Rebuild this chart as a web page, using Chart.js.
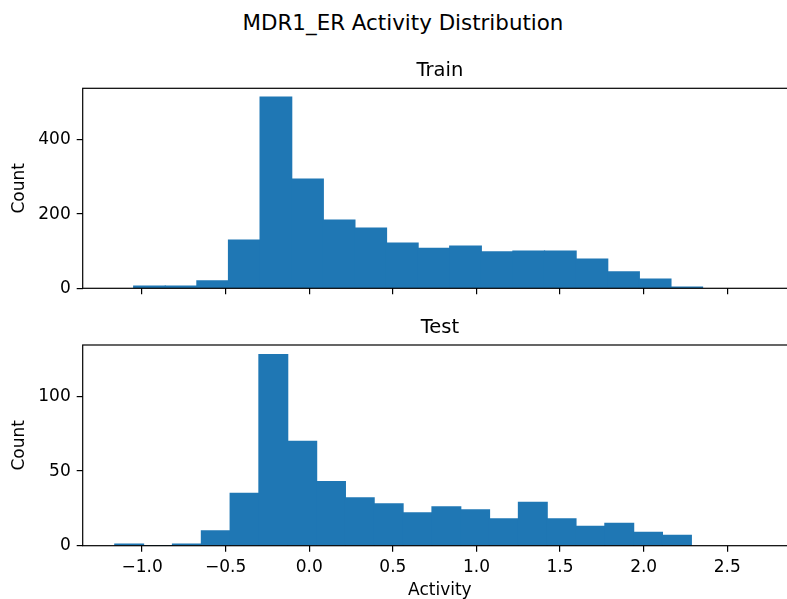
<!DOCTYPE html>
<html><head><meta charset="utf-8">
<script src="https://cdn.jsdelivr.net/npm/chart.js@4.4.1/dist/chart.umd.min.js"></script>
<style>
html,body{margin:0;padding:0;background:#fff;overflow:hidden;}
#wrap{position:relative;width:787px;height:599px;overflow:hidden;background:#fff;}
#sup{position:absolute;left:0;top:11px;width:806px;text-align:center;font-family:'DejaVu Sans';font-size:21.4px;line-height:24px;color:#000;}
canvas{position:absolute;left:0;}
</style></head><body>
<div id="wrap">
<div id="sup">MDR1_ER Activity Distribution</div>
<canvas id="c1" width="800" height="310" style="top:0px"></canvas>
<canvas id="c2" width="800" height="289" style="top:310px"></canvas>
</div>
<script>
// Bin centers (Activity) and counts
const trainCenters = [-0.9555, -0.7665, -0.5775, -0.3885, -0.1995, -0.0105, 0.1785, 0.3675, 0.5565, 0.7455, 0.9345, 1.1235, 1.3125, 1.5015, 1.6905, 1.8795, 2.0685, 2.2575];
const trainCounts  = [6, 6, 20, 130, 515, 294, 184, 162, 122, 108, 114, 98, 100, 100, 79, 44, 25, 3];
const testCenters  = [-1.077, -0.904, -0.732, -0.559, -0.387, -0.215, -0.042, 0.130, 0.302, 0.475, 0.647, 0.820, 0.992, 1.164, 1.337, 1.509, 1.681, 1.854, 2.026, 2.199];
const testCounts   = [1, 0, 1, 10, 35, 128, 70, 43, 32, 28, 22, 26, 24, 18, 29, 18, 13, 15, 9, 7];
const xTicks       = [-1.0, -0.5, 0.0, 0.5, 1.0, 1.5, 2.0, 2.5];
const trainYTicks  = [0, 200, 400];
const testYTicks   = [0, 50, 100];

Chart.defaults.font.family = "'DejaVu Sans'";
Chart.defaults.color = '#000';

const spines = {
  id: 'spines',
  afterDatasetsDraw(chart) {
    const {ctx, chartArea: a} = chart;
    ctx.save();
    ctx.strokeStyle = '#000';
    ctx.lineWidth = 1.2;
    ctx.strokeRect(a.left, a.top, a.right - a.left, a.bottom - a.top);
    ctx.restore();
  }
};

function fmt(v) {
  const s = Math.abs(v).toFixed(1);
  return v < 0 ? '\u2212' + s : s;
}

function makeChart(id, centers, counts, yMax, yTicks, title, tPad, showX, xH) {
  return new Chart(document.getElementById(id), {
    type: 'bar',
    data: {
      datasets: [{
        data: centers.map((x, i) => ({x: x, y: counts[i]})),
        backgroundColor: '#1f77b4',
        borderWidth: 0,
        barPercentage: 1.0,
        categoryPercentage: 1.0,
        inflateAmount: 0.6
      }]
    },
    plugins: [spines],
    options: {
      responsive: false,
      animation: false,
      devicePixelRatio: 1,
      layout: {padding: {left: 0, right: 3, top: 0, bottom: 0}},
      plugins: {
        legend: {display: false},
        tooltip: {enabled: false},
        title: {display: true, text: title, fullSize: false, color: '#000',
                font: {size: 19.5, weight: 'normal'}, padding: tPad}
      },
      scales: {
        x: {
          type: 'linear', min: -1.355, max: 2.917, offset: false,
          afterBuildTicks: s => { s.ticks = xTicks.map(v => ({value: v})); },
          afterFit: s => { s.height = xH; },
          grid: {display: true, offset: false, drawOnChartArea: false, drawTicks: true, tickLength: 6, color: '#000', lineWidth: 1.2},
          border: {display: false},
          ticks: {autoSkip: false, maxRotation: 0, minRotation: 0, padding: 6, font: {size: 17},
                  callback: v => showX ? fmt(v) : ''},
          title: {display: showX, text: 'Activity', font: {size: 17}, padding: {top: 0, bottom: -1.5}}
        },
        y: {
          min: 0, max: yMax,
          afterBuildTicks: s => { s.ticks = yTicks.map(v => ({value: v})); },
          afterFit: s => { s.width = 82.7; },
          grid: {display: true, offset: false, drawOnChartArea: false, drawTicks: true, tickLength: 6, color: '#000', lineWidth: 1.2},
          border: {display: false},
          ticks: {padding: 6, font: {size: 17}, callback: v => String(v)},
          title: {display: true, text: 'Count', font: {size: 17}, padding: {top: 9.5, bottom: 0}}
        }
      }
    }
  });
}

makeChart('c1', trainCenters, trainCounts, 539, trainYTicks, 'Train', {top: 59.4, bottom: 5.5}, false, 21.7);
makeChart('c2', testCenters, testCounts, 134.5, testYTicks, 'Test', {top: 6.4, bottom: 5.2}, true, 53.3);
</script>
</body></html>
